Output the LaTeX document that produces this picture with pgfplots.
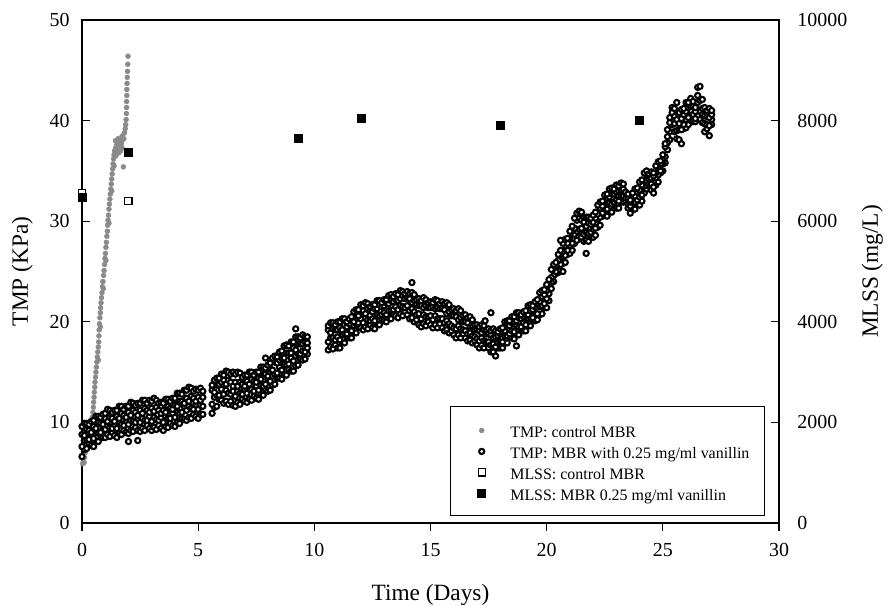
\documentclass[border=0pt]{standalone}
\usepackage{fontspec}
\setmainfont{Liberation Serif}
\usepackage{pgfplots}
\usepackage{pgfplotstable}
\pgfplotsset{compat=1.18}
\definecolor{ctrlgray}{RGB}{138,138,138}

% TMP, MBR with vanillin: four readings per time step across the band
\pgfplotstableread{
x a b c d
0.0 6.6 7.6 8.8 9.6
0.1 7.3 8.2 8.7 9.9
0.2 7.4 8.3 9.3 9.9
0.3 7.9 8.3 9.2 9.8
0.4 7.7 8.8 9.0 10.1
0.5 7.6 8.4 9.6 10.2
0.6 8.1 9.0 9.4 10.6
0.7 8.1 9.0 10.0 10.6
0.8 8.7 9.0 9.9 10.5
0.9 8.5 9.6 9.8 10.8
1.0 8.5 9.3 10.4 10.9
1.1 8.8 9.7 10.1 11.3
1.2 8.6 9.5 10.5 11.2
1.3 9.0 9.4 10.4 11.0
1.4 8.7 9.8 10.1 11.2
1.5 8.5 9.4 10.6 11.2
1.6 8.9 9.9 10.4 11.6
1.7 8.8 9.8 10.9 11.6
1.8 9.2 9.7 10.7 11.3
1.9 9.0 10.2 10.5 11.6
2.0 8.9 9.8 11.0 11.6
2.1 9.2 10.2 10.7 12.0
2.2 9.1 10.1 11.2 11.9
2.3 9.5 10.0 11.0 11.7
2.4 9.2 10.4 10.7 11.9
2.5 9.1 10.0 11.2 11.9
2.6 9.4 10.4 10.9 12.2
2.7 9.2 10.2 11.4 12.2
2.8 9.7 10.2 11.2 11.9
2.9 9.4 10.6 11.0 12.2
3.0 9.2 10.1 11.4 12.1
3.1 9.5 10.5 11.1 12.4
3.2 9.3 10.3 11.5 12.2
3.3 9.7 10.2 11.2 11.9
3.4 9.4 10.5 10.9 12.0
3.5 9.2 10.0 11.2 11.9
3.6 9.6 10.6 11.0 12.3
3.7 9.5 10.4 11.6 12.3
3.8 9.9 10.4 11.4 12.1
3.9 9.7 10.9 11.3 12.4
4.0 9.6 10.5 11.7 12.4
4.1 10.0 11.0 11.6 12.9
4.2 9.9 10.9 12.1 12.9
4.3 10.4 11.0 12.1 12.8
4.4 10.3 11.6 11.9 13.2
4.5 10.2 11.2 12.4 13.2
4.6 10.5 11.6 12.1 13.5
4.7 10.4 11.4 12.6 13.4
4.8 10.8 11.3 12.4 13.1
4.9 10.6 11.8 12.1 13.3
5.0 10.4 11.3 12.5 13.2
5.1 10.8 11.7 12.2 13.4
5.2 10.8 11.6 12.5 13.1
5.6 10.9 11.8 13.2 13.7
5.7 11.5 12.5 13.0 14.2
5.8 11.6 12.7 13.7 14.4
5.9 12.3 12.7 13.8 14.4
6.0 12.2 13.3 14.0 14.8
6.1 11.9 12.8 14.2 14.7
6.2 12.1 13.2 13.8 15.1
6.3 11.8 12.9 14.2 15.0
6.4 12.1 12.8 14.0 14.8
6.5 11.7 13.1 13.6 15.0
6.6 11.6 12.6 14.0 14.8
6.7 12.0 13.1 13.6 15.0
6.8 11.8 12.9 14.0 14.9
6.9 12.3 12.8 13.8 14.5
7.0 12.1 13.3 13.6 14.7
7.1 12.0 12.9 14.1 14.7
7.2 12.3 13.3 13.8 15.0
7.3 12.2 13.3 14.3 15.0
7.4 12.6 13.1 14.1 14.7
7.5 12.4 13.6 14.0 15.0
7.6 12.3 13.2 14.4 15.0
7.7 12.8 13.7 14.3 15.5
7.8 12.7 13.6 14.8 15.5
7.9 13.3 13.8 14.8 15.4
8.0 13.1 14.3 14.6 15.7
8.1 13.2 14.1 15.3 15.9
8.2 13.7 14.6 15.2 16.4
8.3 13.8 14.8 16.0 16.6
8.4 14.4 14.9 15.9 16.5
8.5 14.4 15.5 16.2 17.0
8.6 14.3 15.2 16.4 17.1
8.7 14.8 15.8 16.4 17.6
8.8 14.7 15.7 16.9 17.7
8.9 15.3 15.8 16.9 17.6
9.0 15.1 16.4 16.9 18.0
9.1 15.1 16.1 17.4 18.0
9.2 15.6 16.6 17.2 18.5
9.3 15.7 16.8 17.8 18.5
9.4 16.3 16.8 17.8 18.4
9.5 16.2 17.1 17.8 18.7
9.6 16.3 17.0 18.0 18.5
9.7 16.8 17.4 17.9 18.5
10.6 17.2 18.0 19.2 19.6
10.7 17.5 18.4 18.9 19.9
10.8 17.3 18.4 19.3 19.9
10.9 17.7 18.2 19.2 19.7
11.0 17.4 18.5 19.2 20.0
11.1 17.4 18.2 19.4 20.0
11.2 17.9 18.7 19.2 20.3
11.3 17.9 18.8 19.7 20.3
11.4 18.5 18.8 19.5 20.0
11.5 18.4 19.2 19.8 20.3
11.6 18.4 19.1 20.1 20.5
11.7 18.9 19.6 20.0 21.0
11.8 18.9 19.8 20.6 21.2
11.9 19.5 19.9 20.6 21.2
12.0 19.4 20.3 21.0 21.7
12.1 19.2 19.9 21.1 21.6
12.2 19.5 20.4 20.8 21.9
12.3 19.3 20.2 21.3 21.8
12.4 19.7 20.1 21.1 21.5
12.5 19.4 20.3 21.0 21.7
12.6 19.3 20.1 21.3 21.7
12.7 19.8 20.7 21.3 22.1
12.8 19.7 20.6 21.7 22.1
12.9 20.3 20.7 21.5 21.9
13.0 20.1 20.9 21.6 22.2
13.1 20.0 20.7 21.9 22.2
13.2 20.4 21.1 21.8 22.6
13.3 20.3 21.1 22.1 22.7
13.4 20.8 21.2 22.0 22.5
13.5 20.6 21.5 22.2 22.8
13.6 20.4 21.2 22.1 22.7
13.7 20.8 21.6 22.3 23.1
13.8 20.6 21.5 22.6 23.0
13.9 21.0 21.4 22.3 22.8
14.0 20.7 21.6 22.4 23.0
14.1 20.3 21.1 22.3 22.8
14.2 20.4 21.3 21.9 22.9
14.3 20.0 21.0 22.1 22.7
14.4 20.2 20.7 21.7 22.2
14.5 19.7 20.8 21.6 22.3
14.6 19.5 20.3 21.6 22.1
14.7 19.8 20.7 21.4 22.4
14.8 19.6 20.5 21.6 22.2
14.9 20.0 20.5 21.4 21.9
15.0 19.7 20.6 21.4 22.0
15.1 19.4 20.2 21.5 21.9
15.2 19.7 20.6 21.3 22.2
15.3 19.4 20.3 21.4 22.1
15.4 19.8 20.3 21.3 21.8
15.5 19.4 20.3 21.3 22.0
15.6 19.1 19.9 21.2 21.8
15.7 19.2 20.1 20.8 21.9
15.8 18.9 19.8 21.0 21.7
15.9 19.1 19.6 20.6 21.2
16.0 18.7 19.4 20.6 21.3
16.1 18.4 19.3 20.5 21.1
16.2 18.7 19.6 20.2 21.3
16.3 18.4 19.3 20.4 21.1
16.4 18.8 19.2 20.0 20.6
16.5 18.4 19.1 20.0 20.7
16.6 18.1 18.8 19.9 20.4
16.7 18.2 18.9 19.5 20.5
16.8 17.9 18.6 19.6 20.2
16.9 18.1 18.5 19.2 19.7
17.0 17.7 18.3 19.2 19.7
17.1 17.4 18.1 19.1 19.5
17.2 17.7 18.4 18.9 19.7
17.3 17.4 18.1 19.2 19.6
17.4 17.8 18.0 18.8 19.2
17.5 17.4 18.0 18.8 19.3
17.6 17.0 17.7 18.7 19.1
17.7 17.0 17.8 18.4 19.3
17.8 16.6 17.5 18.5 19.1
17.9 17.4 17.9 18.6 19.0
18.0 17.4 18.0 18.8 19.3
18.1 17.4 18.0 19.0 19.4
18.2 17.9 18.6 19.1 20.0
18.3 17.9 18.6 19.6 20.1
18.4 18.5 18.8 19.6 20.1
18.5 18.4 19.1 19.9 20.5
18.6 18.3 19.0 20.0 20.5
18.7 18.8 19.6 20.1 20.9
18.8 18.7 19.5 20.4 20.9
18.9 19.3 19.5 20.3 20.7
19.0 19.1 19.9 20.5 21.0
19.1 19.1 19.7 20.7 21.1
19.2 19.6 20.3 20.7 21.6
19.3 19.6 20.4 21.1 21.7
19.4 20.2 20.4 21.2 21.6
19.5 20.1 20.9 21.5 22.0
19.6 20.2 20.8 21.8 22.2
19.7 20.7 21.5 22.0 22.9
19.8 20.8 21.6 22.5 23.1
19.9 21.4 21.8 22.7 23.2
20.0 21.4 22.3 23.1 23.7
20.1 22.1 22.8 23.8 24.2
20.2 23.3 23.9 24.4 25.2
20.3 24.0 24.6 25.3 25.7
20.4 24.8 25.0 25.6 25.9
20.5 24.9 25.6 26.1 26.7
20.6 25.1 25.7 26.7 27.1
20.7 25.8 26.5 27.0 27.8
20.8 25.9 26.6 27.6 28.2
20.9 26.7 27.1 27.8 28.3
21.0 26.8 27.6 28.3 29.0
21.1 27.1 27.8 29.0 29.5
21.2 27.8 28.7 29.3 30.3
21.3 28.1 29.0 30.1 30.8
21.4 28.9 29.2 30.3 31.0
21.5 28.4 29.3 30.1 30.9
21.6 28.0 28.7 29.9 30.4
21.7 28.1 28.9 29.5 30.4
21.8 28.0 28.8 29.8 30.4
21.9 28.5 28.9 29.7 30.3
22.0 28.4 29.2 29.9 30.6
22.1 28.6 29.3 30.3 30.9
22.2 29.4 30.2 30.7 31.6
22.3 29.6 30.4 31.3 31.9
22.4 30.5 30.8 31.5 32.0
22.5 30.6 31.4 32.0 32.6
22.6 30.5 31.2 32.3 32.7
22.7 31.0 31.8 32.4 33.2
22.8 30.9 31.7 32.7 33.3
22.9 31.5 31.9 32.7 33.2
23.0 31.3 32.1 32.9 33.6
23.1 31.3 32.0 33.0 33.5
23.2 31.9 32.5 33.1 33.8
23.3 31.9 32.5 33.2 33.7
23.4 32.0 32.3 32.8 32.9
23.5 31.3 31.7 32.3 32.7
23.6 30.8 31.5 31.9 32.1
23.7 31.3 31.9 32.3 32.8
23.8 31.2 31.9 32.5 33.2
23.9 31.8 32.1 32.9 33.3
24.0 31.6 32.4 33.1 33.9
24.1 32.0 32.6 33.6 34.1
24.2 32.8 33.5 34.0 34.8
24.3 33.2 33.8 34.6 35.0
24.4 33.5 33.7 34.5 34.7
24.5 33.1 33.7 34.3 34.9
24.6 32.8 33.4 34.5 34.8
24.7 33.6 34.3 34.8 35.5
24.8 33.9 34.6 35.4 35.9
24.9 34.8 35.0 35.7 36.0
25.0 35.0 35.7 36.1 36.6
25.1 35.8 36.4 37.4 37.7
25.2 37.1 37.8 38.4 39.1
25.3 38.1 38.9 39.8 40.3
25.4 39.6 40.0 40.8 41.3
25.5 38.9 39.7 40.4 41.2
25.6 38.2 39.0 40.1 41.8
25.7 38.1 39.1 39.7 40.8
25.8 37.7 39.1 40.2 41.1
25.9 39.2 39.6 40.6 41.2
26.0 39.3 40.1 40.9 41.8
26.1 39.6 40.3 41.3 41.8
26.2 40.4 41.0 41.4 42.2
26.3 39.9 40.6 41.4 41.9
26.4 39.9 40.2 40.9 41.3
26.5 41.0 41.8 42.5 43.3
26.6 40.1 40.9 42.0 43.4
26.7 39.8 40.6 41.2 42.1
26.8 38.9 39.7 40.5 41.3
26.9 39.2 39.6 40.4 41.0
27.0 38.5 39.5 40.3 41.2
27.1 39.6 40.1 40.6 41.0
}\vanillin

\pgfplotsset{
  tmpctrl/.style={only marks, mark=*, mark size=1.25bp,
    mark options={draw=ctrlgray, fill=ctrlgray, line width=0.2bp}},
  tmpvan/.style={only marks, mark=*, mark size=1.3bp,
    mark options={draw=black, fill=white, line width=1.05bp}},
  mlssctrl/.style={only marks, mark=square*, mark size=1.8bp,
    mark options={draw=black, fill=white, line width=0.6bp}},
  mlssvan/.style={only marks, mark=square*, mark size=2bp,
    mark options={draw=black, fill=black, line width=0.3bp}},
  base/.style={scale only axis, width=348.5bp, height=251.5bp,
    xmin=0, xmax=30, clip=false,
    axis line style={line width=0.6bp},
    every tick/.style={black, line width=0.6bp},
    major tick length=4bp,
    tick label style={font=\fontsize{10}{12}\selectfont},
    /pgf/number format/assume math mode=true,
    label style={font=\fontsize{11.7}{14}\selectfont}},
}

\begin{document}
\begin{tikzpicture}
\begin{axis}[base, name=main,
  ymin=0, ymax=50,
  xtick={0,5,...,30}, ytick={0,10,...,50},
  xtick pos=bottom, ytick pos=left,
  xtick align=outside, ytick align=inside,
  xticklabel style={yshift=-2.6bp},
  yticklabel style={xshift=-2.7bp},
  xlabel={Time (Days)}, ylabel={TMP (KPa)},
  xlabel style={at={(axis description cs:0.5,-0.155)}, anchor=base},
  ylabel style={at={(axis description cs:-0.0775,0.5)}, anchor=base}]

\addplot[tmpctrl] coordinates {
(0.03,5.9)(0.06,6.1)(0.09,6.0)(0.11,6.5)(0.14,7.0)(0.17,7.5)(0.2,8.0)(0.24,8.4)
(0.28,8.8)(0.32,9.2)(0.36,9.6)(0.4,10.0)(0.44,10.5)(0.47,11.0)(0.49,11.5)(0.5,12.0)
(0.52,12.5)(0.53,13.0)(0.55,13.5)(0.56,14.0)(0.58,14.5)(0.6,15.0)(0.62,15.5)(0.64,16.0)
(0.66,16.5)(0.68,17.0)(0.7,17.5)(0.72,18.0)(0.73,18.6)(0.74,19.2)(0.75,19.8)(0.77,20.4)
(0.79,20.9)(0.8,21.4)(0.82,21.9)(0.84,22.4)(0.86,22.9)(0.88,23.5)(0.9,24.0)(0.93,24.6)
(0.95,25.1)(0.97,25.7)(0.99,26.3)(1.01,26.8)(1.03,27.4)(1.05,27.9)(1.07,28.5)(1.09,29.0)
(1.1,29.6)(1.12,30.1)(1.14,30.6)(1.16,31.2)(1.18,31.7)(1.2,32.2)(1.22,32.7)(1.24,33.2)
(1.26,33.7)(1.28,34.2)(1.3,34.7)(1.32,35.2)(1.34,35.7)(1.36,36.2)(1.38,36.6)(1.4,37.0)
(1.42,36.6)(1.45,37.3)(1.48,37.0)(1.5,37.6)(1.52,36.9)(1.55,37.4)(1.58,37.8)(1.6,37.2)
(1.62,38.0)(1.65,37.5)(1.68,38.3)(1.7,37.7)(1.72,38.0)(1.75,38.5)(1.78,35.4)(1.8,38.2)
(1.83,38.8)(1.86,39.2)(1.88,39.6)(1.9,40.1)(1.91,40.7)(1.92,41.3)(1.92,41.9)(1.93,42.5)
(1.93,43.1)(1.94,43.7)(1.95,44.3)(1.96,44.9)(1.97,45.6)(1.98,46.4)
(0.7,16.2)(0.79,19.5)(0.92,23.3)(1.03,26.1)(1.16,29.8)(1.28,33.0)(1.38,35.5)(1.46,36.5)
(1.58,36.8)(1.66,37.0)(1.44,38.0)(1.55,38.2)(1.72,37.3)};

\addplot[tmpvan] table[x=x, y=a] {\vanillin};
\addplot[tmpvan] table[x=x, y=b] {\vanillin};
\addplot[tmpvan] table[x=x, y=c] {\vanillin};
\addplot[tmpvan] table[x=x, y=d] {\vanillin};
% stray readings outside the band
\addplot[tmpvan] coordinates {(2.0,8.1)(2.4,8.2)(7.9,16.4)(9.2,19.3)(14.2,23.9)
  (17.35,20.1)(17.6,20.9)(18.7,17.6)(20.6,28.1)(20.7,25.0)(21.7,26.8)};
\end{axis}

\begin{axis}[base,
  axis x line=none, axis y line*=right,
  ymin=0, ymax=10000, ytick={0,2000,...,10000},
  ytick align=inside, scaled y ticks=false,
  yticklabel style={/pgf/number format/1000 sep={}, xshift=5.7bp},
  ylabel={MLSS (mg/L)},
  ylabel style={at={(axis description cs:1.142,0.5)}, anchor=base},
  legend cell align=left,
  legend image code/.code={\draw[#1] plot coordinates {(0bp,-0.6bp)};
    \path (-8bp,0bp) (6bp,0bp);},
  legend style={at={(0.98,0.014)}, anchor=south east, draw=black,
    line width=0.6bp, fill=white, inner xsep=7.5bp, inner ysep=6.3bp,
    row sep=0bp, column sep=8bp, font=\fontsize{8}{9.6}\selectfont,
    nodes={inner sep=0bp, text height=9.2bp, text depth=1.3bp}}]

\addlegendimage{tmpctrl}
\addlegendentry{TMP: control MBR}
\addlegendimage{tmpvan}
\addlegendentry{TMP: MBR with 0.25 mg/ml vanillin}

\addplot[mlssctrl] coordinates {(0,6560)(2,6400)};
\addlegendentry{MLSS: control MBR}
\addplot[mlssvan] coordinates {(0,6480)(2,7360)(9.3,7650)(12,8040)(18,7900)(24,8010)};
\addlegendentry{MLSS: MBR 0.25 mg/ml vanillin}
\end{axis}

\pgfresetboundingbox
\path[use as bounding box] ([shift={(-41bp,-41.5bp)}]main.south west)
  rectangle ++(443.5bp,303bp);
\end{tikzpicture}
\end{document}
